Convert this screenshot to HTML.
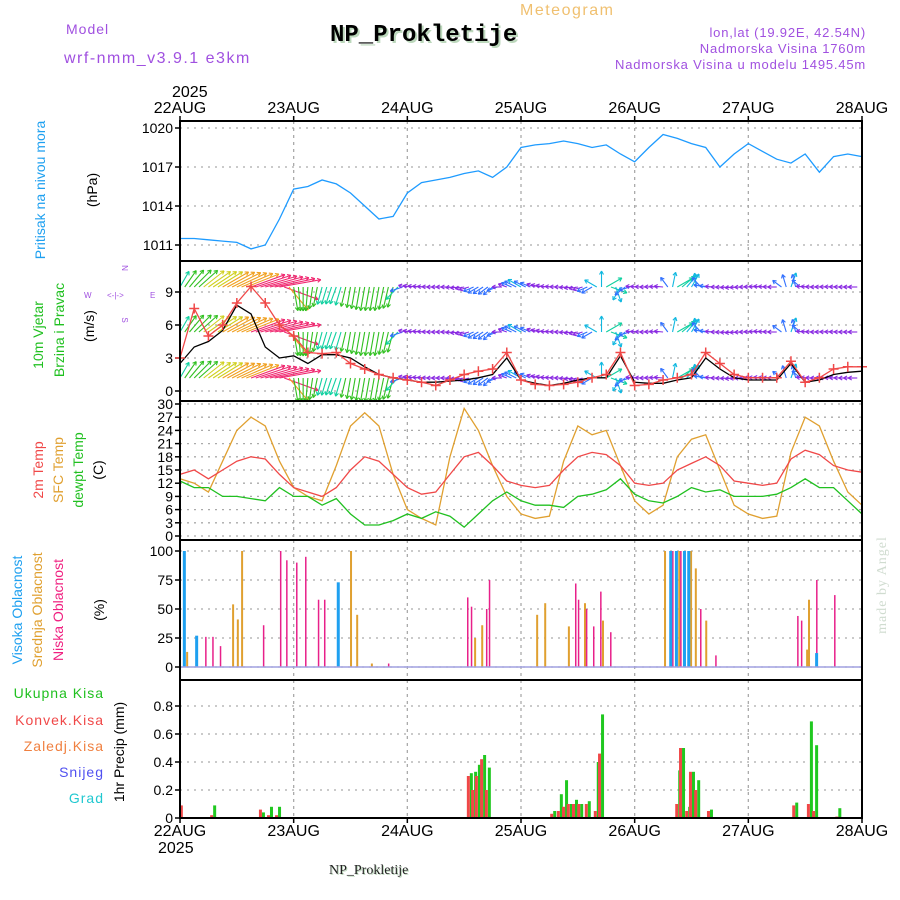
<!DOCTYPE html>
<html><head><meta charset="utf-8"><style>
body{margin:0;background:#fff}
svg{display:block;font-family:"Liberation Sans",sans-serif}
</style></head><body>
<svg id="chart" width="900" height="900" viewBox="0 0 900 900">
<text x="520" y="15" font-size="16" fill="#f0c070" letter-spacing="1.5">Meteogram</text>
<text x="66" y="34" font-size="14" fill="#a050e0" letter-spacing="1">Model</text>
<text x="64" y="63" font-size="16" fill="#a050e0" letter-spacing="1.5">wrf-nmm_v3.9.1 e3km</text>
<text x="332" y="43" font-size="24" font-weight="bold" font-family="Liberation Mono,monospace" fill="#bcd8bc">NP_Prokletije</text>
<text x="330" y="41" font-size="24" font-weight="bold" font-family="Liberation Mono,monospace" fill="#000">NP_Prokletije</text>
<text x="866" y="37" font-size="13" fill="#a050e0" text-anchor="end" letter-spacing="0.8">lon,lat (19.92E, 42.54N)</text>
<text x="866" y="53" font-size="13" fill="#a050e0" text-anchor="end" letter-spacing="0.8">Nadmorska Visina 1760m</text>
<text x="866" y="69" font-size="13" fill="#a050e0" text-anchor="end" letter-spacing="0.8">Nadmorska Visina u modelu 1495.45m</text>
<text x="172" y="97" font-size="16" fill="#000">2025</text>
<text x="158" y="853" font-size="16" fill="#000">2025</text>
<text x="330" y="875" font-size="14" font-family="Liberation Serif,serif" fill="#bcd8bc">NP_Prokletije</text>
<text x="329" y="874" font-size="14" font-family="Liberation Serif,serif" fill="#222">NP_Prokletije</text>
<g font-size="14">
<text transform="translate(45,190) rotate(-90)" text-anchor="middle" fill="#1ea0f0">Pritisak na nivou mora</text>
<text transform="translate(97,190) rotate(-90)" text-anchor="middle" fill="#000">(hPa)</text>
<text transform="translate(43,335) rotate(-90)" text-anchor="middle" fill="#20c020">10m Vjetar</text>
<text transform="translate(64,330) rotate(-90)" text-anchor="middle" fill="#20c020">Brzina i Pravac</text>
<text transform="translate(94,326) rotate(-90)" text-anchor="middle" fill="#000">(m/s)</text>
<text transform="translate(43,470) rotate(-90)" text-anchor="middle" fill="#f04848">2m Temp</text>
<text transform="translate(63,470) rotate(-90)" text-anchor="middle" fill="#e0a030">SFC Temp</text>
<text transform="translate(83,470) rotate(-90)" text-anchor="middle" fill="#20c020">dewpt Temp</text>
<text transform="translate(103,470) rotate(-90)" text-anchor="middle" fill="#000">(C)</text>
<text transform="translate(22,610) rotate(-90)" text-anchor="middle" fill="#1ea0f0">Visoka Oblacnost</text>
<text transform="translate(42,610) rotate(-90)" text-anchor="middle" fill="#e0a030">Srednja Oblacnost</text>
<text transform="translate(63,610) rotate(-90)" text-anchor="middle" fill="#f02080">Niska Oblacnost</text>
<text transform="translate(104,610) rotate(-90)" text-anchor="middle" fill="#000">(%)</text>
<text transform="translate(124,752) rotate(-90)" text-anchor="middle" fill="#000">1hr Precip (mm)</text>
<text x="104" y="698" text-anchor="end" fill="#20c020" letter-spacing="1">Ukupna  Kisa</text>
<text x="104" y="725" text-anchor="end" fill="#f04848" letter-spacing="1">Konvek.Kisa</text>
<text x="104" y="751" text-anchor="end" fill="#f08040" letter-spacing="1">Zaledj.Kisa</text>
<text x="104" y="777" text-anchor="end" fill="#5050f0" letter-spacing="1">Snijeg</text>
<text x="104" y="803" text-anchor="end" fill="#20c8d0" letter-spacing="1">Grad</text>
<text transform="translate(886,585) rotate(-90)" text-anchor="middle" fill="#d0dcd0" font-family="Liberation Serif,serif" letter-spacing="1">made by Angel</text>
</g>
<g font-size="8" fill="#a050e0">
<text x="122" y="268" text-anchor="middle" transform="rotate(90 122 268)">N</text>
<text x="84" y="298">W</text><text x="107" y="298">&lt;-|-&gt;</text><text x="150" y="298">E</text>
<text x="122" y="320" text-anchor="middle" transform="rotate(90 122 320)">S</text>
</g>
<g id="plot"></g>
</svg>
<script>
const X0=180,X1=862,PXH=(X1-X0)/144;
const days=['22AUG','23AUG','24AUG','25AUG','26AUG','27AUG','28AUG'];
const hours3=[0,3,6,9,12,15,18,21,24,27,30,33,36,39,42,45,48,51,54,57,60,63,66,69,72,75,78,81,84,87,90,93,96,99,102,105,108,111,114,117,120,123,126,129,132,135,138,141,144];
const pressure=[1011.5,1011.5,1011.4,1011.3,1011.2,1010.7,1011,1013,1015.3,1015.5,1016,1015.7,1015,1014,1013,1013.2,1015,1015.8,1016,1016.2,1016.5,1016.7,1016.2,1017,1018.5,1018.7,1018.8,1019,1018.8,1018.5,1018.7,1018,1017.4,1018.5,1019.5,1019.2,1018.8,1018.5,1017,1018,1018.8,1018.2,1017.6,1017.3,1018,1016.6,1017.8,1018,1017.8];
const windSpeed=[2.5,4,4.5,5.5,7.8,7,4,3,3.2,2.5,3.3,3.3,3,2.2,1.5,1.2,1,0.8,0.8,0.9,1,1.2,1.5,3,1,0.7,0.5,0.7,1,1.2,1.2,3.2,0.8,0.7,0.7,1,1.2,3,2,1.2,1,1,1,2.5,0.8,1,1.5,1.7,1.8];
const windGust=[3,7.5,5,6,8,9.5,8,6,5,3.5,3.4,3.5,2.5,2,1.5,1.2,1,0.8,0.5,1,1.5,1.8,2,3.5,1,0.6,0.5,0.6,0.8,1.2,1.5,3.5,0.5,0.6,1,1.2,1.5,3.5,2.5,1.5,1.2,1.2,1.2,2.7,0.8,1.2,2,2.2,2.2];
const windAng=[60,45,35,30,25,20,15,10,-80,-95,-105,-110,-100,-100,-100,-105,170,175,180,180,190,-150,-140,160,150,160,175,180,-170,-150,30,-120,175,180,175,30,60,170,180,185,180,175,180,70,175,180,178,180,180];
const windArrowSpd=[6,8,9,10,11,12,13,14,8,8,6,6,7,8,8,7,3,3,3,3,3,4,4,3,5,3,3,3,3,4,6,5,3,3,3,6,5,4,3,3,3,3,3,5,3,3,3,3,3];
const temp2m=[14,15,13,15,17,18,17.5,14,11,10,9,11,15,18,17,14,11,9.5,10,14,18,19,16,12.5,11.5,11,11.5,15,18,19,18.5,16,12,11.5,12,15,16.5,18,16,12.5,12,11.5,12,17.5,19.5,18.5,16,15,14.5];
const tempSfc=[13,12,10,17,24,27,25,17,11,9,8,16,25,28,25,14,6,4,2.5,18,29,24,16,9,5,4,4.5,17,25,23,24,16,8,5,7,18,22,23,15,7,5,4,4.5,19,27,25,17,10,7];
const tempDew=[12.5,11,11,9,9,8.5,8,11,9,9,7,8.5,5,2.5,2.5,3.5,5,4,5.5,4.5,2,5,8,10,8,7,7,6.5,9,9.5,10.5,13,9.5,8,7.5,9,11,10,10.5,9,9,9,9.5,11,13,11,11,8,5];
const highCloudH=[0.6,3.2,33.1,103.3,104.5,106.2,107.1,134.1];
const highCloudV=[100,27,73,100,100,100,100,12];
const midCloudH=[1.3,11,12,12.9,35.9,37.2,40.3,62.1,63.6,75.2,76.9,81.9,85.3,89.1,102.2,105.2,107.7,108.7,110.9,132.2,132.6];
const midCloudV=[13,54,41,100,100,45,3,25,36,45,55,35,55,40,100,100,100,85,40,15,58];
const lowCloudH=[5.3,6.8,8.4,17.5,21.1,22.4,24.5,26.4,29.1,30.4,43.9,60.6,61.4,64.6,65.2,83.4,84,85.7,87.2,88.7,90.8,103.9,105.6,109.8,113,130.3,131.1,134.3,138.1];
const lowCloudV=[26,26,18,36,100,92,90,95,58,58,3,60,52,50,75,72,58,50,35,65,30,100,100,50,10,44,40,75,62];
const precipH=[0.6,7,17.3,19,20.7,61.2,62.1,62.9,64,65,78.8,80.2,81.3,82.3,83.4,84.5,86.1,88,88.9,105.2,106,107.3,108.1,109.2,111.9,129.9,133,134.1,139];
const precipTotal=[0,0.09,0.04,0.08,0.08,0.32,0.33,0.38,0.45,0.36,0.05,0.17,0.27,0.1,0.13,0.1,0.12,0.4,0.74,0.34,0.5,0.08,0.33,0.27,0.06,0.11,0.69,0.52,0.07];
const precipConv=[0.09,0.02,0.06,0.02,0.02,0.3,0.2,0.3,0.42,0.2,0.03,0.05,0.08,0.1,0.1,0.1,0.1,0.05,0.46,0.1,0.5,0.05,0.33,0.2,0.05,0.09,0.1,0.05,0.01];
const pTicks=[1011,1014,1017,1020],wTicks=[0,3,6,9],tTicks=[0,3,6,9,12,15,18,21,24,27,30],cTicks=[0,25,50,75,100],rTicks=[0,0.2,0.4,0.6,0.8];
const rTickLabels=['0','0.2','0.4','0.6','0.8'];

const NS='http://www.w3.org/2000/svg',plot=document.getElementById('plot');
function el(tag,a,name){const e=document.createElementNS(NS,tag);for(const k in a)e.setAttribute(k,a[k]);


plot.appendChild(e);return e;}
const xh=h=>X0+h*PXH;
const panels=[{t:121,b:261},{t:261,b:401},{t:401,b:540},{t:540,b:680},{t:680,b:818}];
const yP=v=>128+(1020-v)*13, yW=v=>391-v*11, yT=v=>536-v*4.4, yC=v=>667-v*1.16, yR=v=>818-v*140;
function grid(ticks,fy,lab,name){ticks.forEach((v,i)=>{
 el('line',{x1:X0,x2:X1,y1:fy(v),y2:fy(v),stroke:'#aaa','stroke-dasharray':'2,5','stroke-width':1.3},name+'-gridline');
 el('line',{x1:X0-5,x2:X0,y1:fy(v),y2:fy(v),stroke:'#000','stroke-width':1.5},name+'-tick');
 const t=el('text',{x:X0-7,y:fy(v)+5,'font-size':14,'text-anchor':'end'},name+'-tick-label');t.textContent=lab?lab[i]:v;});}
panels.forEach((p,i)=>{for(let d=1;d<6;d++)el('line',{x1:xh(d*24),x2:xh(d*24),y1:p.t,y2:p.b,stroke:'#aaa','stroke-dasharray':'3,4','stroke-width':1.3},'day-gridline');});
grid(pTicks,yP,null,'pressure');grid(wTicks,yW,null,'wind');grid(tTicks,yT,null,'temp');grid(cTicks,yC,null,'cloud');grid(rTicks,yR,rTickLabels,'precip');
days.forEach((d,i)=>{const x=xh(i*24);
 let t=el('text',{x:x,y:113,'font-size':16,'text-anchor':'middle'},'top-date-label');t.textContent=d;
 t=el('text',{x:x,y:836,'font-size':16,'text-anchor':'middle'},'bottom-date-label');t.textContent=d;
 el('line',{x1:x,x2:x,y1:116,y2:121,stroke:'#000','stroke-width':1.5},'top-date-tick');
 el('line',{x1:x,x2:x,y1:818,y2:823,stroke:'#000','stroke-width':1.5},'bottom-date-tick');});
function line(vals,fy,col,name,w){el('polyline',{points:vals.map((v,i)=>xh(hours3[i])+','+fy(v)).join(' '),fill:'none',stroke:col,'stroke-width':w||1.3},name);}
line(pressure,yP,'#1e9bff','pressure-line');
function interpAng(i,f){let a=windAng[i],b=windAng[Math.min(i+1,48)];let d=((b-a+540)%360)-180;return a+d*f;}
function spdCol(s){return s<3.5?'#8a2be2':s<4.5?'#3070ff':s<5.5?'#10b8e0':s<6.5?'#10d0a0':s<8.5?'#30c020':s<10?'#d0d020':s<12?'#f0a020':'#f02870';}
const rows=[287,332,378];
for(let k=0;k<144;k++){const h=k,i=Math.floor(h/3),f=(h%3)/3;
 const s=windArrowSpd[i]+((windArrowSpd[Math.min(i+1,48)]-windArrowSpd[i])*f);
 const a=interpAng(i,f)*Math.PI/180,L=s*3,c=spdCol(s);
 rows.forEach(ry=>{const x=xh(h),ex=x+L*Math.cos(a),ey=ry-L*Math.sin(a);
  el('line',{x1:x,y1:ry,x2:ex,y2:ey,stroke:c,'stroke-width':1.1},'wind-arrow');
  [150,-150].forEach(o=>{const b=a+o*Math.PI/180;
   el('line',{x1:ex,y1:ey,x2:ex+4*Math.cos(b),y2:ey-4*Math.sin(b),stroke:c,'stroke-width':1.1},'wind-arrow-head');});});}
line(windSpeed,yW,'#000','wind-speed-line');
line(windGust,yW,'#f04848','wind-gust-line');
windGust.forEach((v,i)=>{const x=xh(hours3[i]),y=yW(v);
 el('path',{d:`M${x-5},${y}H${x+5}M${x},${y-5}V${y+5}`,stroke:'#f04848','stroke-width':1.5},'wind-gust-marker');});
line(tempSfc,yT,'#e0a030','sfc-temp-line');line(temp2m,yT,'#f04848','t2m-temp-line');line(tempDew,yT,'#20c020','dewpt-temp-line');
function bars(H,V,col,w,off,fy,name){H.forEach((h,i)=>{const y=fy(V[i]);el('rect',{x:xh(h)+off,y:y,width:w,height:fy(0)-y,fill:col},name);});}
bars(midCloudH,midCloudV,'#e0a030',2,0,yC,'mid-cloud-bar');
bars(lowCloudH,lowCloudV,'#e8208a',1.5,0,yC,'low-cloud-bar');
bars(highCloudH,highCloudV,'#1ea0f0',3,0,yC,'high-cloud-bar');
el('line',{x1:X0,x2:X1,y1:yC(0),y2:yC(0),stroke:'#a0a0e0','stroke-width':1.5},'cloud-baseline');
bars(precipH,precipTotal,'#20c820',3,0,yR,'precip-total-bar');
bars(precipH,precipConv,'#f04848',3,-3,yR,'precip-conv-bar');
panels.forEach(p=>el('rect',{x:X0,y:p.t,width:X1-X0,height:p.b-p.t,fill:'none',stroke:'#000','stroke-width':2},'panel-frame'));
</script>
</body></html>
